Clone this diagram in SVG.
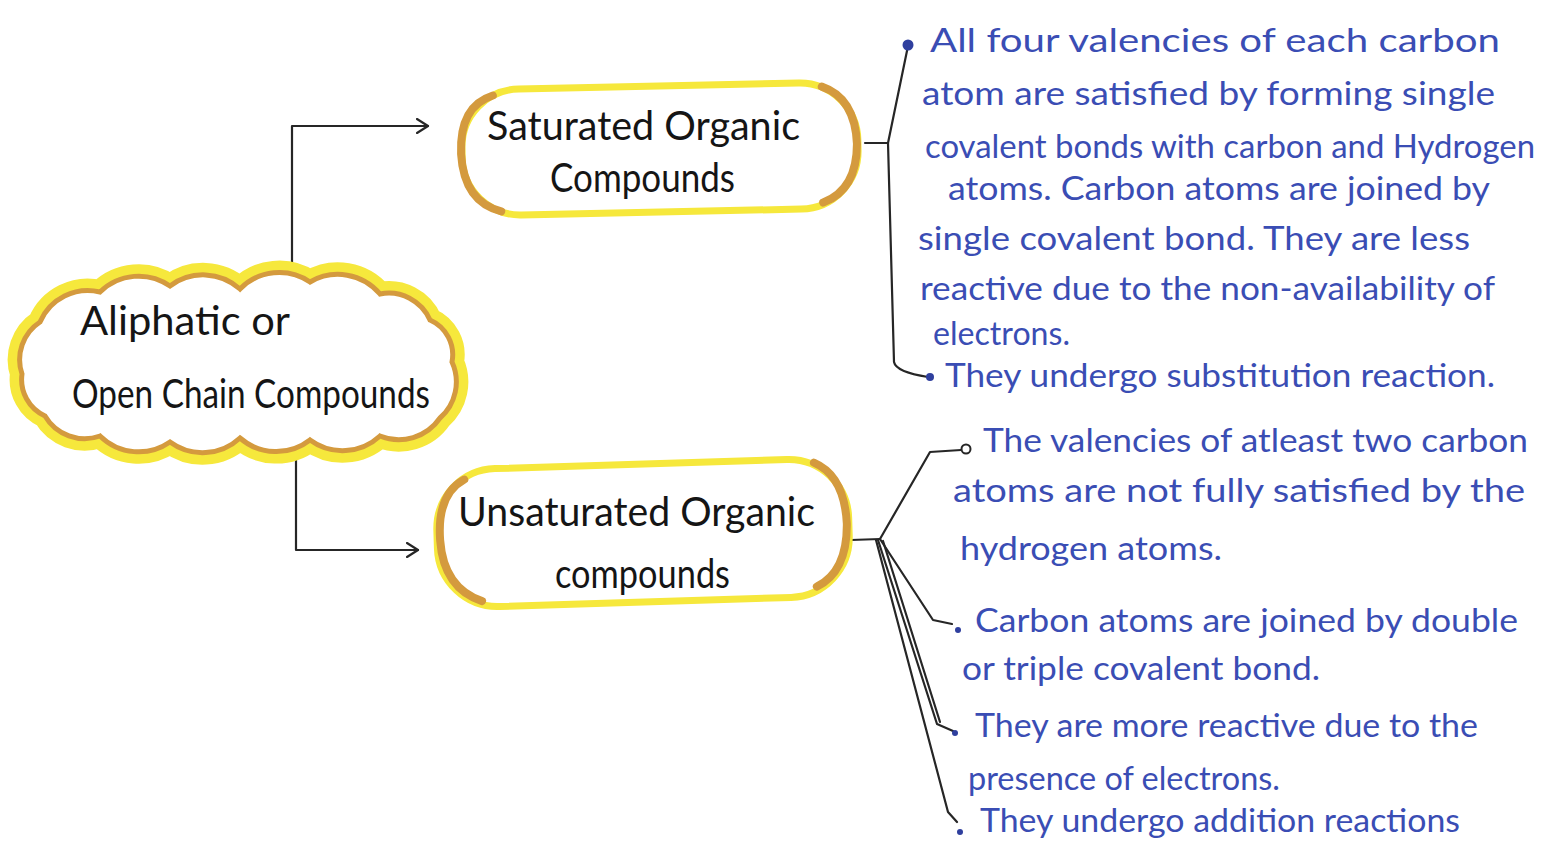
<svg xmlns="http://www.w3.org/2000/svg" width="1542" height="842" viewBox="0 0 1542 842">
<style>
.node-text{font-family:"Lato","Open Sans","Liberation Sans",sans-serif;font-size:40px;fill:#151515}
.note{font-family:"Lato","Open Sans","Liberation Sans",sans-serif;font-size:33px;fill:#3a4db4}
.line{fill:none;stroke:#262626;stroke-width:2.2;stroke-linecap:round;stroke-linejoin:round}
.glow{fill:none;stroke:#f6e83c;stroke-linecap:round;stroke-linejoin:round}
.rim{fill:none;stroke:#d49a3e;stroke-linecap:round}
.dot{fill:#2f3f9e}
</style>
<defs>
<marker id="arr" markerWidth="14" markerHeight="16" refX="12" refY="8" orient="auto" markerUnits="userSpaceOnUse">
<path d="M1,1 L12,8 L1,15" fill="none" stroke="#262626" stroke-width="2.2" stroke-linecap="round" stroke-linejoin="round"/>
</marker>
<path id="cloudPath" d="M40 322 A52 52 0 0 1 100 292 A55 55 0 0 1 170 286 A55 55 0 0 1 240 289 A55 55 0 0 1 310 282 A55 55 0 0 1 380 294 A45 45 0 0 1 430 320 A38 38 0 0 1 452 362 A48 48 0 0 1 440 418 A50 50 0 0 1 380 436 A55 55 0 0 1 310 440 A55 55 0 0 1 240 438 A55 55 0 0 1 170 442 A55 55 0 0 1 100 436 A46 46 0 0 1 45 416 A40 40 0 0 1 22 374 A45 45 0 0 1 40 322 Z"/>
</defs>
<rect width="1542" height="842" fill="#ffffff"/>

<g id="connectors">
<path class="line" d="M292 272 L292 126 L428 126" marker-end="url(#arr)"/>
<path class="line" d="M296 460 L296 550 L418 550" marker-end="url(#arr)"/>
<path class="line" d="M865 143 L888 143"/>
<path class="line" d="M908 46 L888 143 L894 362 Q896 372 928 377"/>
<path class="line" d="M851 540 L880 539"/>
<path class="line" d="M880 539 L930 452 L961 450"/>
<path class="line" d="M880 539 L933 620 L952 624"/>
<path class="line" d="M878 540 L937 724 L953 731"/>
<path class="line" d="M883 541 L940 722"/>
<path class="line" d="M876 540 L948 812 L957 822"/>
<circle cx="966" cy="449" r="4.5" fill="#ffffff" stroke="#262626" stroke-width="2"/>
</g>

<g id="node-aliphatic">
<use href="#cloudPath" class="glow" stroke-width="24"/>
<use href="#cloudPath" fill="#ffffff" stroke="#d49a3e" stroke-width="5"/>
<text class="node-text" x="80" y="335" textLength="210" lengthAdjust="spacingAndGlyphs">Aliphatic or</text>
<text class="node-text" x="72" y="408" textLength="358" lengthAdjust="spacingAndGlyphs">Open Chain Compounds</text>
</g>

<g id="node-saturated">
<g transform="rotate(-1.2 660 148)">
<rect x="462" y="86" width="396" height="126" rx="58" fill="#ffffff" class="glow" stroke-width="7"/>
<path class="rim" stroke-width="8" d="M494 92 Q460 102 461 150 Q463 198 500 208"/>
<path class="rim" stroke-width="8" d="M823 90 Q856 102 857 148 Q856 194 822 206"/>
</g>
<text class="node-text" x="487" y="140" textLength="313" lengthAdjust="spacingAndGlyphs">Saturated Organic</text>
<text class="node-text" x="550" y="192" textLength="185" lengthAdjust="spacingAndGlyphs">Compounds</text>
</g>

<g id="node-unsaturated">
<g transform="rotate(-1.8 643 532)">
<rect x="437" y="464" width="412" height="138" rx="60" fill="#ffffff" class="glow" stroke-width="7"/>
<path class="rim" stroke-width="8" d="M466 474 Q438 488 440 534 Q442 582 480 596"/>
<path class="rim" stroke-width="8" d="M816 468 Q846 482 847 530 Q846 578 815 592"/>
</g>
<text class="node-text" x="458" y="526" textLength="357" lengthAdjust="spacingAndGlyphs">Unsaturated Organic</text>
<text class="node-text" x="555" y="588" textLength="175" lengthAdjust="spacingAndGlyphs">compounds</text>
</g>

<g id="notes-saturated">
<circle class="dot" cx="908" cy="45" r="5.5"/>
<circle class="dot" cx="930" cy="377" r="4"/>
<text class="note" x="930" y="52" textLength="570" lengthAdjust="spacingAndGlyphs">All four valencies of each carbon</text>
<text class="note" x="922" y="105" textLength="573" lengthAdjust="spacingAndGlyphs">atom are satisfied by forming single</text>
<text class="note" x="925" y="158" textLength="610" lengthAdjust="spacingAndGlyphs">covalent bonds with carbon and Hydrogen</text>
<text class="note" x="948" y="200" textLength="542" lengthAdjust="spacingAndGlyphs">atoms. Carbon atoms are joined by</text>
<text class="note" x="918" y="250" textLength="552" lengthAdjust="spacingAndGlyphs">single covalent bond. They are less</text>
<text class="note" x="920" y="300" textLength="575" lengthAdjust="spacingAndGlyphs">reactive due to the non-availability of</text>
<text class="note" x="933" y="345" textLength="137" lengthAdjust="spacingAndGlyphs">electrons.</text>
<text class="note" x="945" y="387" textLength="550" lengthAdjust="spacingAndGlyphs">They undergo substitution reaction.</text>
</g>

<g id="notes-unsaturated">
<circle class="dot" cx="958" cy="630" r="3"/>
<circle class="dot" cx="955" cy="733" r="3"/>
<circle class="dot" cx="960" cy="832" r="3"/>
<text class="note" x="983" y="452" textLength="545" lengthAdjust="spacingAndGlyphs">The valencies of atleast two carbon</text>
<text class="note" x="953" y="502" textLength="572" lengthAdjust="spacingAndGlyphs">atoms are not fully satisfied by the</text>
<text class="note" x="960" y="560" textLength="262" lengthAdjust="spacingAndGlyphs">hydrogen atoms.</text>
<text class="note" x="975" y="632" textLength="543" lengthAdjust="spacingAndGlyphs">Carbon atoms are joined by double</text>
<text class="note" x="962" y="680" textLength="358" lengthAdjust="spacingAndGlyphs">or triple covalent bond.</text>
<text class="note" x="975" y="737" textLength="503" lengthAdjust="spacingAndGlyphs">They are more reactive due to the</text>
<text class="note" x="968" y="790" textLength="312" lengthAdjust="spacingAndGlyphs">presence of electrons.</text>
<text class="note" x="980" y="832" textLength="480" lengthAdjust="spacingAndGlyphs">They undergo addition reactions</text>
</g>
</svg>
